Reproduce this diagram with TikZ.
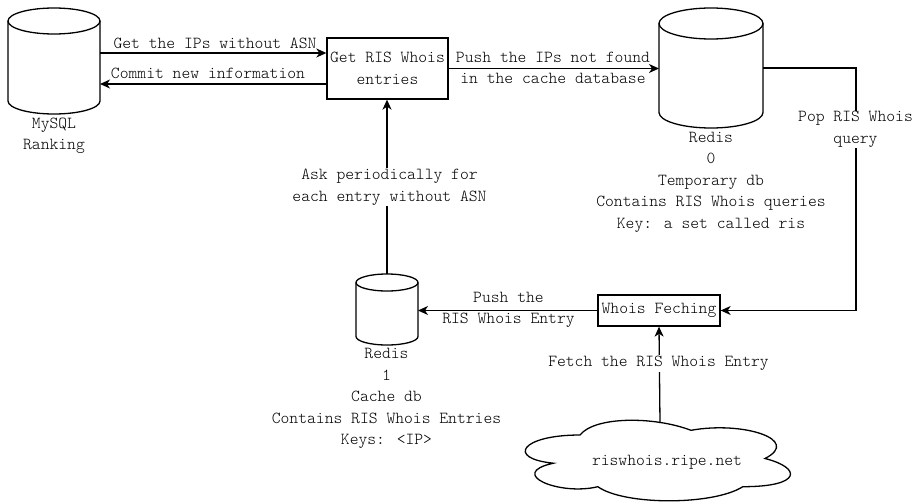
\documentclass[tikz,border=0pt]{standalone}
\usepackage{fontspec}
\setmainfont{Latin Modern Mono Light}
\usetikzlibrary{arrows.meta}
\begin{document}
\begin{tikzpicture}[x=1pt,y=-1pt,
  every node/.style={font=\fontsize{16.8}{21.5}\selectfont},
  arr/.style={-{Stealth[length=10pt,width=9pt,inset=3pt]}, line width=1.3pt},
  box/.style={draw, line width=1.3pt, inner sep=0pt, align=center},
  lbl/.style={align=center, inner sep=1pt},
  wlbl/.style={lbl, fill=white},
  dbshape/.style={draw, line width=1.3pt, fill=white},
  hold/.style={inner sep=0pt, outer sep=0pt}]
\useasboundingbox (0,0) rectangle (915,503);

% ---- cylinders (databases) ----
\node[hold, minimum width=92pt, minimum height=106pt] (mysql) at (54,61) {};
\draw[dbshape] (8,21) -- (8,101) .. controls (8,108.2) and (28.6,114) .. (54,114)
  .. controls (79.4,114) and (100,108.2) .. (100,101) -- (100,21);
\draw[dbshape] (54,21) ellipse [x radius=46, y radius=13];

\node[hold, minimum width=104pt, minimum height=120pt] (redis0) at (711,68) {};
\draw[dbshape] (659,23.5) -- (659,112.5) .. controls (659,121.06) and (682.3,128) .. (711,128)
  .. controls (739.7,128) and (763,121.06) .. (763,112.5) -- (763,23.5);
\draw[dbshape] (711,23.5) ellipse [x radius=52, y radius=15.5];

\node[hold, minimum width=62pt, minimum height=71pt] (redis1) at (387,309.5) {};
\draw[dbshape] (356,282.5) -- (356,336.5) .. controls (356,341.2) and (369.9,345) .. (387,345)
  .. controls (404.1,345) and (418,341.2) .. (418,336.5) -- (418,282.5);
\draw[dbshape] (387,282.5) ellipse [x radius=31, y radius=8.5];

% ---- boxes ----
\node[box, minimum width=121pt, minimum height=61pt] (getris) at (387.5,68.5) {Get RIS Whois\\entries};
\node[box, minimum width=122pt, minimum height=31pt] (whois) at (659,310.5) {Whois Feching};

% ---- cloud ----
\draw[line width=1.3pt, fill=white] (580,435)
  .. controls (520.8,435) and (506,458.5) .. (553.4,463.2)
  .. controls (506,473.5) and (559.3,496.1) .. (597.8,486.7)
  .. controls (624.4,505.5) and (713.2,505.5) .. (742.8,486.7)
  .. controls (802,486.7) and (802,467.9) .. (765,458.5)
  .. controls (802,439.7) and (742.8,420.9) .. (691,430.3)
  .. controls (654,416.2) and (594.8,416.2) .. (580,435) -- cycle;
\node[lbl] (ripe) at (667,462) {riswhois.ripe.net};
\coordinate (cloudtop) at (660,423);

% ---- database labels ----
\node[lbl] (mysqllbl) at (54,136) {MySQL\\Ranking};
\node[lbl] (redis0lbl) at (711,182) {Redis\\0\\Temporary db\\Contains RIS Whois queries\\Key: a set called ris};
\node[lbl] (redis1lbl) at (386.5,398.5) {Redis\\1\\Cache db\\Contains RIS Whois Entries\\Keys: <IP>};

% ---- connectors ----
\coordinate (g1) at ([yshift=15.5pt]getris.west);
\coordinate (g2) at ([yshift=-15.5pt]getris.west);
\draw[arr] (g1 -| mysql.east) -- (g1);
\draw[arr] (g2) -- (g2 -| mysql.east);
\node[lbl] (getlbl) at (215,43) {Get the IPs without ASN};
\node[lbl] (commitlbl) at (208,73) {Commit new information};

\draw[arr] (getris.east) -- (getris.east -| redis0.west);
\node[lbl] (pushlbl) at (553,68) {Push the IPs not found\\in the cache database};

\coordinate (turn) at (856,68);
\draw[arr] (redis0.east) -- (turn) |- (whois.east);
\node[wlbl] (poplbl) at (855.5,129.5) {Pop RIS Whois\\query};

\draw[arr] (redis1.north) -- (redis1.north |- getris.south);
\node[wlbl] (asklbl) at (389.5,187) {Ask periodically for~\\each entry without ASN};

\draw[arr] (whois.west) -- (whois.west -| redis1.east);
\node[lbl] (pushentrylbl) at (508.5,310) {Push the~\\RIS Whois Entry};

\draw[arr] (cloudtop) -- (whois.south);
\node[wlbl] (fetchlbl) at (658.5,363.5) {Fetch the RIS Whois Entry};
\end{tikzpicture}
\end{document}
